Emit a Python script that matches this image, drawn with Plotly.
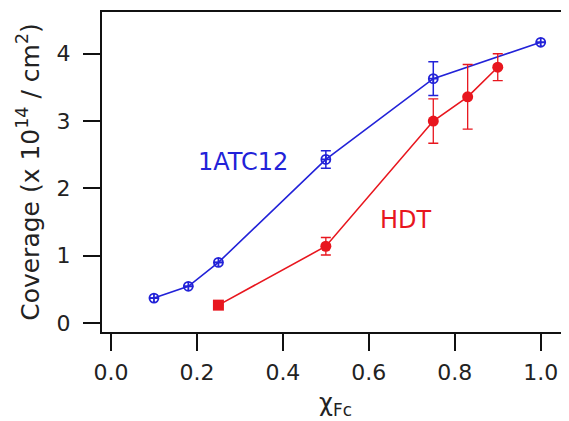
import plotly.graph_objects as go

# Data
atc_x = [0.10, 0.18, 0.25, 0.50, 0.75, 1.00]
atc_y = [0.37, 0.545, 0.90, 2.43, 3.63, 4.17]
atc_err = [0.0, 0.0, 0.0, 0.13, 0.25, 0.0]

hdt_x = [0.25, 0.50, 0.75, 0.83, 0.90]
hdt_y = [0.265, 1.14, 3.00, 3.36, 3.80]
hdt_err = [0.0, 0.13, 0.33, 0.48, 0.20]
hdt_symbols = ["square", "circle", "circle", "circle", "circle"]

x_ticks = [0.0, 0.2, 0.4, 0.6, 0.8, 1.0]
x_ticklabels = ["0.0", "0.2", "0.4", "0.6", "0.8", "1.0"]
y_ticks = [0, 1, 2, 3, 4]

BLUE = "#2222d8"
RED = "#e8161e"
FONT = "DejaVu Sans"

fig = go.Figure()
fig.add_trace(go.Scatter(
    x=atc_x, y=atc_y, mode="lines+markers",
    line=dict(color=BLUE, width=1.6),
    marker=dict(symbol="circle-cross-open", size=9, color=BLUE, line=dict(width=1.8, color=BLUE)),
    error_y=dict(type="data", array=atc_err, color=BLUE, thickness=1.5, width=5),
    showlegend=False,
))
fig.add_trace(go.Scatter(
    x=hdt_x, y=hdt_y, mode="lines+markers",
    line=dict(color=RED, width=1.6),
    marker=dict(symbol=hdt_symbols, size=11, color=RED),
    error_y=dict(type="data", array=hdt_err, color=RED, thickness=1.3, width=5),
    showlegend=False,
))

fig.add_annotation(x=0.308, y=2.39, text="1ATC12", showarrow=False,
                   font=dict(family=FONT, size=24, color=BLUE))
fig.add_annotation(x=0.686, y=1.53, text="HDT", showarrow=False,
                   font=dict(family=FONT, size=24, color=RED))

fig.update_layout(
    width=561, height=413,
    margin=dict(l=94, r=0, t=4, b=89),
    paper_bgcolor="white", plot_bgcolor="white",
    font=dict(family=FONT, size=22, color="#222222"),
    xaxis=dict(
        range=[-0.0209, 1.0658], tickvals=x_ticks, ticktext=x_ticklabels,
        showgrid=False, zeroline=False, automargin=False,
        showline=True, linecolor="#111111", linewidth=2, mirror=True,
        ticks="outside", ticklen=17, tickwidth=2, tickcolor="#111111",
        tickfont=dict(family=FONT, size=22, color="#222222"),
        ticklabelstandoff=3,
        title=dict(text="χ<sub>Fc</sub>", font=dict(family=FONT, size=24, color="#222222"), standoff=10),
    ),
    yaxis=dict(
        range=[-0.134, 4.62], tickvals=y_ticks,
        showgrid=False, zeroline=False, automargin=False,
        showline=True, linecolor="#111111", linewidth=2, mirror=False,
        ticks="outside", ticklen=17, tickwidth=2, tickcolor="#111111",
        tickfont=dict(family=FONT, size=22, color="#222222"),
        ticklabelstandoff=8,
        title=dict(text="Coverage (x 10<sup>14</sup> / cm<sup>2</sup>)",
                   font=dict(family=FONT, size=25, color="#222222"), standoff=10),
    ),
)

fig.write_html("out.html")
